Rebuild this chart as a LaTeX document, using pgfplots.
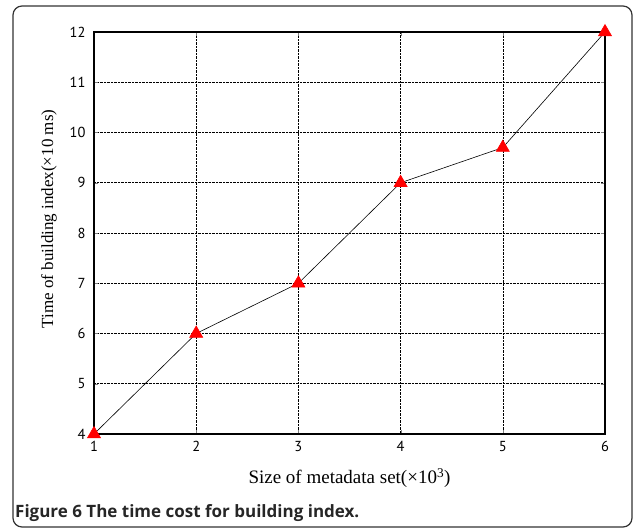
\documentclass[border=0pt]{standalone}
\usepackage{pgfplots}
\pgfplotsset{compat=1.18}
\usepackage{fontspec}
\setmainfont{Liberation Serif}
\newfontfamily\capfont{PT Sans}
\newfontfamily\boldcap{Open Sans}
\begin{document}
\begin{tikzpicture}[x=1pt,y=1pt]
% frame and caption
\draw[line width=1.2pt, black!80, rounded corners=9pt] (13,4) rectangle (632,525);
\path[use as bounding box] (0,0) rectangle (634,531);
\node[anchor=base west, inner sep=0pt, font=\boldcap\bfseries\fontsize{17}{20}\selectfont, text=black!85]
  at (15,14) {Figure 6 The time cost for building index.};
\begin{axis}[
    at={(94pt,97pt)}, anchor=south west,
    scale only axis, width=511pt, height=402pt,
    xmin=1, xmax=6, ymin=4, ymax=12,
    xtick={1,2,3,4,5,6}, ytick={4,5,...,12},
    tick align=inside,
    major tick length=4pt,
    axis line style={line width=1.2pt},
    grid=major,
    grid style={black, densely dotted, line width=0.6pt},
    tick label style={font=\capfont\fontsize{14.5}{16}\selectfont},
    xticklabel style={yshift=-4pt},
    yticklabel style={xshift=-5pt},
    /pgf/number format/assume math mode=true,
    xlabel={Size of metadata set(×10\textsuperscript{3})},
    ylabel={Time of building index(×10 ms)},
    xlabel style={font=\fontsize{19}{22}\selectfont, yshift=-10pt},
    ylabel style={font=\fontsize{17}{20}\selectfont, yshift=6pt, xshift=14pt},
    clip=false,
]
\addplot[black, line width=0.6pt, mark=triangle*, mark size=7.5pt,
  mark options={fill=red, draw=red}] coordinates {
(1,4) (2,6) (3,7) (4,9) (5,9.7) (6,12)
};
\end{axis}
\end{tikzpicture}
\end{document}
